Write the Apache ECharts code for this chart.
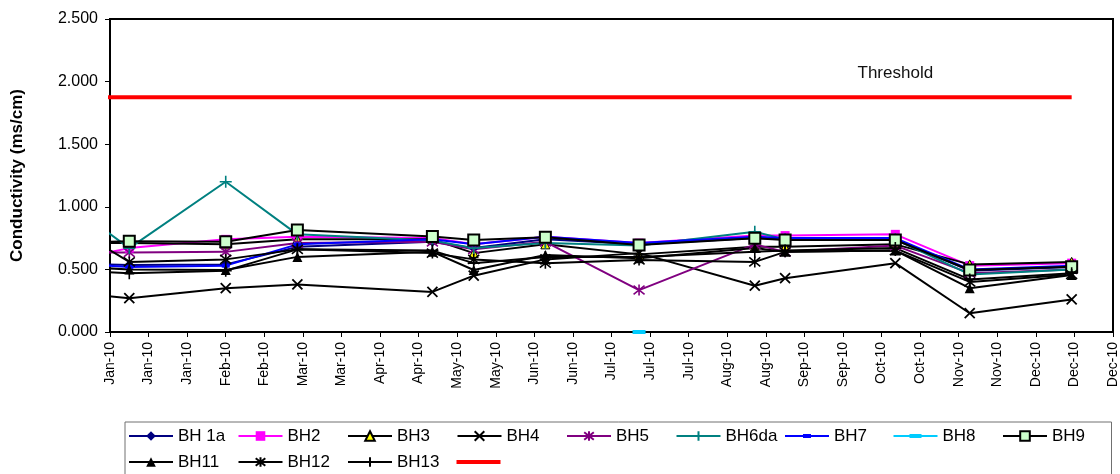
<!DOCTYPE html>
<html>
<head>
<meta charset="utf-8">
<title>Conductivity 2010</title>
<script src="https://cdn.jsdelivr.net/npm/echarts@6/dist/echarts.min.js"></script>
<style>
  html, body { margin: 0; padding: 0; background: #ffffff; }
  #chart { width: 1120px; height: 474px; }
</style>
</head>
<body>
<div id="chart"></div>
<script>
// Sampling dates (the first one is the last reading of the previous year)
const sampleDates = ['2009-12-30', '2010-01-08', '2010-02-12', '2010-03-10', '2010-04-28', '2010-05-13',
  '2010-06-08', '2010-07-12', '2010-08-23', '2010-09-03', '2010-10-13', '2010-11-09', '2010-12-16'];

// Conductivity readings (ms/cm) per borehole
const bh1a  = [0.54, 0.535, 0.54, 0.68, 0.72, 0.67, 0.74, 0.70, 0.75, 0.74, 0.74, 0.49, 0.52];
const bh2   = [0.63, 0.67, 0.74, 0.76, 0.75, 0.70, 0.76, 0.71, 0.77, 0.77, 0.78, 0.53, 0.55];
const bh3   = [0.71, 0.71, 0.70, 0.74, 0.74, 0.63, 0.70, 0.62, 0.68, 0.68, 0.70, 0.54, 0.56];
const bh4   = [0.29, 0.27, 0.35, 0.38, 0.32, 0.45, 0.58, 0.63, 0.37, 0.43, 0.55, 0.15, 0.26];
const bh5   = [0.635, 0.635, 0.64, 0.71, 0.72, 0.66, 0.72, 0.335, 0.70, 0.64, 0.69, 0.47, 0.50];
const bh6da = [0.815, 0.67, 1.20, 0.78, 0.73, 0.67, 0.71, 0.69, 0.80, 0.74, 0.74, 0.46, 0.50];
const bh7   = [0.53, 0.52, 0.53, 0.70, 0.74, 0.70, 0.76, 0.71, 0.76, 0.75, 0.75, 0.50, 0.53];
const bh8   = [null, null, null, null, null, null, null, 0.0, null, null, null, null, null];
const bh9   = [0.72, 0.725, 0.72, 0.815, 0.763, 0.735, 0.756, 0.695, 0.748, 0.735, 0.735, 0.495, 0.522];
const bh11  = [0.51, 0.50, 0.495, 0.60, 0.64, 0.495, 0.615, 0.59, 0.67, 0.64, 0.65, 0.35, 0.455];
const bh12  = [0.68, 0.56, 0.58, 0.66, 0.63, 0.58, 0.55, 0.575, 0.56, 0.64, 0.65, 0.40, 0.46];
const bh13  = [0.48, 0.47, 0.49, 0.66, 0.65, 0.55, 0.60, 0.60, 0.64, 0.65, 0.67, 0.42, 0.47];

// Threshold line
const thresholdValue = 1.875;
const thresholdDates = ['2009-12-30', '2010-12-16'];
const thresholdLabel = 'Threshold';
const thresholdLabelDate = '2010-10-13';

const monthNames = ['Jan', 'Feb', 'Mar', 'Apr', 'May', 'Jun', 'Jul', 'Aug', 'Sep', 'Oct', 'Nov', 'Dec'];
const yearStart = Date.UTC(2010, 0, 1);
const DAY = 86400000;

function dayOf(s) {
  const p = s.split('-').map(Number);
  return (Date.UTC(p[0], p[1] - 1, p[2]) - yearStart) / DAY;
}
function dayLabel(v) {
  const d = new Date(yearStart + Math.round(v) * DAY);
  return monthNames[d.getUTCMonth()] + '-' + String(d.getUTCFullYear()).slice(2);
}
// Build [x, y] pairs; the carried-over reading has no marker
function points(values) {
  const out = [];
  values.forEach((v, i) => {
    if (v === null) return;
    const x = dayOf(sampleDates[i]);
    out.push(x < 0 ? { value: [x, v], symbol: 'none' } : [x, v]);
  });
  return out;
}

const FONT = "'Liberation Sans', Arial, Helvetica, sans-serif";
const X_MARK = 'path://M0,0L10,10M10,0L0,10';
const STAR_MARK = 'path://M1,1L9,9M9,1L1,9M5,0L5,10';
const PLUS_MARK = 'path://M5,0L5,10M0,5L10,5';

function lineSeries(name, values, lineColor, symbol, symbolSize, item) {
  return {
    name: name,
    type: 'line',
    data: points(values),
    clip: false,
    symbol: symbol,
    symbolSize: symbolSize,
    lineStyle: { color: lineColor, width: 2 },
    itemStyle: item,
    emphasis: { disabled: true },
    z: 2
  };
}

const series = [
  lineSeries('BH 1a', bh1a, '#000080', 'diamond', 10, { color: '#000080' }),
  lineSeries('BH2', bh2, '#FF00FF', 'rect', 9, { color: '#FF00FF' }),
  lineSeries('BH3', bh3, '#000000', 'triangle', 9, { color: '#FFFF00', borderColor: '#000000', borderWidth: 1 }),
  lineSeries('BH4', bh4, '#000000', X_MARK, 10, { color: '#000000', borderColor: '#000000', borderWidth: 1.8 }),
  lineSeries('BH5', bh5, '#800080', STAR_MARK, 11, { color: '#800080', borderColor: '#800080', borderWidth: 1.6 }),
  lineSeries('BH6da', bh6da, '#008080', PLUS_MARK, 12, { color: '#008080', borderColor: '#008080', borderWidth: 1.6 }),
  lineSeries('BH7', bh7, '#0000FF', 'rect', [8, 4], { color: '#0000FF' }),
  lineSeries('BH8', bh8, '#00CCFF', 'rect', [13, 4], { color: '#00CCFF' }),
  lineSeries('BH9', bh9, '#000000', 'rect', 11, { color: '#CCFFCC', borderColor: '#000000', borderWidth: 2 }),
  lineSeries('BH11', bh11, '#000000', 'triangle', 10, { color: '#000000' }),
  lineSeries('BH12', bh12, '#000000', STAR_MARK, 11, { color: '#000000', borderColor: '#000000', borderWidth: 1.6 }),
  lineSeries('BH13', bh13, '#000000', PLUS_MARK, 12, { color: '#000000', borderColor: '#000000', borderWidth: 1.6 }),
  {
    name: 'Threshold',
    type: 'line',
    clip: false,
    data: thresholdDates.map(d => [dayOf(d), thresholdValue]),
    symbol: 'none',
    lineStyle: { color: '#FF0000', width: 4 },
    itemStyle: { color: '#FF0000' },
    emphasis: { disabled: true },
    z: 3,
    markPoint: {
      symbol: 'circle',
      symbolSize: 0,
      silent: true,
      label: {
        show: true,
        position: 'inside',
        offset: [0, -24],
        formatter: thresholdLabel,
        fontFamily: FONT,
        fontSize: 17,
        color: '#111111'
      },
      data: [{ coord: [dayOf(thresholdLabelDate), thresholdValue] }]
    }
  }
];

// Legend icons: a plain bar for the threshold, line + dash for the dash-marked series
const legendIcons = {
  'Threshold': 'path://M0,0H44V4H0Z',
  'BH7': 'path://M0,5H44V7H0Z M18,4H26V8H18Z',
  'BH8': 'path://M0,5H44V7H0Z M16,4H28V8H16Z'
};
const legendData = series.map(s => legendIcons[s.name]
  ? { name: s.name, icon: legendIcons[s.name] }
  : { name: s.name });

const chart = echarts.init(document.getElementById('chart'), null, { renderer: 'canvas' });
chart.setOption({
  animation: false,
  backgroundColor: '#ffffff',
  grid: {
    left: 110, top: 19, width: 1004, height: 313,
    show: true, borderColor: '#000000', borderWidth: 2, backgroundColor: 'transparent'
  },
  xAxis: {
    type: 'value',
    min: 0, max: 364, interval: 14,
    axisLine: { show: true, lineStyle: { color: '#000000', width: 2 } },
    axisTick: { show: true, inside: false, length: 5, lineStyle: { color: '#000000', width: 1 } },
    splitLine: { show: false },
    axisLabel: {
      rotate: 90, margin: 10, fontFamily: FONT, fontSize: 14, color: '#000000',
      formatter: v => dayLabel(v)
    }
  },
  yAxis: {
    type: 'value',
    min: 0, max: 2.5, interval: 0.5,
    name: 'Conductivity (ms/cm)',
    nameLocation: 'middle',
    nameRotate: 90,
    nameGap: 84,
    nameTextStyle: { fontFamily: FONT, fontSize: 17, fontWeight: 'bold', color: '#000000' },
    axisLine: { show: true, lineStyle: { color: '#000000', width: 2 } },
    axisTick: { show: true, inside: false, length: 5, lineStyle: { color: '#000000', width: 1 } },
    splitLine: { show: false },
    axisLabel: {
      margin: 12, fontFamily: FONT, fontSize: 16, color: '#000000',
      formatter: v => v.toFixed(3)
    }
  },
  legend: {
    data: legendData,
    left: 125,
    top: 422,
    width: 1000,
    orient: 'horizontal',
    itemWidth: 44,
    itemHeight: 12,
    itemGap: 0,
    padding: [1, 0, 30, 3],
    borderColor: '#707070',
    borderWidth: 1,
    selectedMode: false,
    formatter: name => '{t|' + (name === 'Threshold' ? '' : name) + '}',
    textStyle: {
      fontFamily: FONT, fontSize: 17, color: '#000000',
      rich: { t: { width: 59.5, height: 26, lineHeight: 26, fontFamily: FONT, fontSize: 17, color: '#000000' } }
    }
  },
  series: series
});
</script>
</body>
</html>
